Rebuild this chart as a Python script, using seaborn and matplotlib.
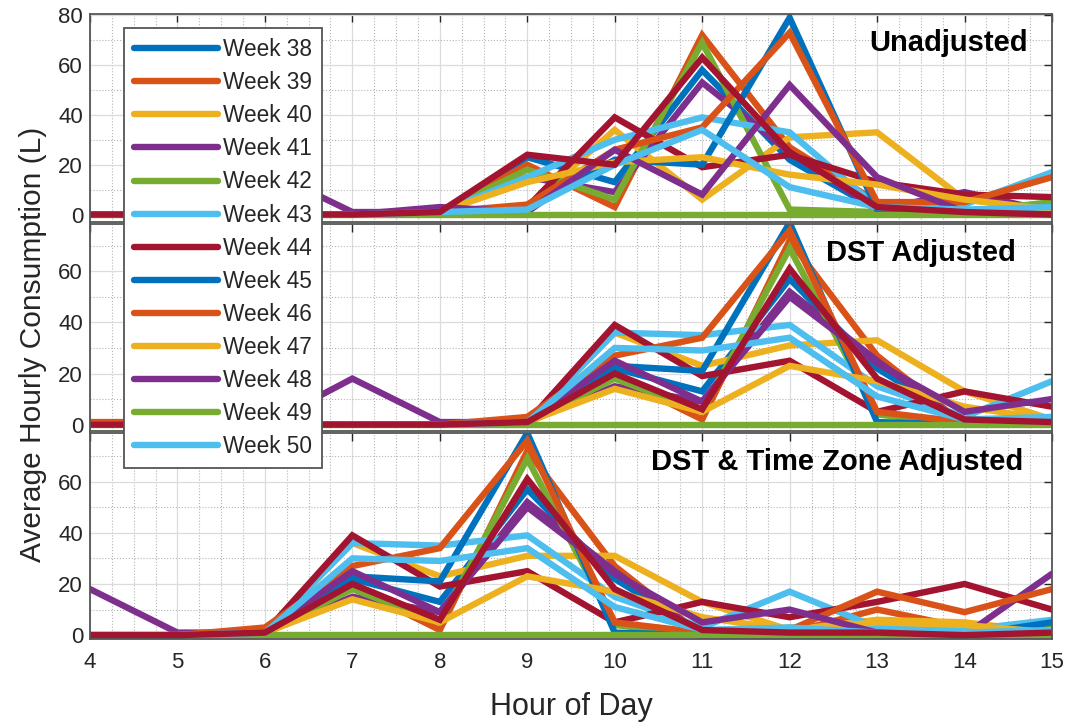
import matplotlib.pyplot as plt
import seaborn as sns
import pandas as pd
from matplotlib.ticker import MultipleLocator

# --- Data ---
HOURS = list(range(4, 16))
WEEKS = [f"Week {w}" for w in range(38, 52)]   # week 51 is drawn but not listed in the legend
LEGEND_WEEKS = WEEKS[:13]
MATLAB_COLORS = ["#0072BD", "#D95319", "#EDB120", "#7E2F8E", "#77AC30", "#4DBEEE", "#A2142F"]

# one row per week (38..51), one column per hour (4..15)
unadjusted = [
    [0, 0, 0, 0, 1, 23, 13, 58, 22, 2, 1, 1],
    [0, 0, 0, 0, 1, 20, 3, 72, 27, 5, 1, 1],
    [0, 0, 0, 0, 1, 3, 34, 6, 31, 33, 6, 2],
    [0, 0, 18, 1, 1, 15, 9, 53, 25, 2, 9, 1],
    [0, 0, 0, 0, 1, 18, 6, 69, 2, 1, 1, 5],
    [0, 0, 0, 0, 1, 15, 30, 39, 33, 3, 4, 17],
    [0, 0, 0, 0, 1, 3, 39, 19, 24, 13, 8, 7],
    [0, 0, 0, 0, 1, 2, 22, 20, 79, 2, 0, 1],
    [0, 0, 0, 0, 1, 4, 26, 35, 73, 5, 5, 15],
    [0, 0, 0, 0, 1, 13, 21, 23, 16, 12, 6, 2],
    [0, 0, 0, 0, 3, 1, 26, 8, 52, 15, 1, 0],
    [0, 0, 0, 0, 0, 0, 0, 0, 0, 0, 0, 0],
    [0, 0, 0, 0, 1, 2, 20, 34, 11, 3, 2, 3],
    [0, 0, 0, 0, 1, 24, 20, 63, 25, 3, 1, 0],
]

dst_adjusted = [
    [0, 0, 0, 0, 0, 1, 22, 13, 57, 22, 1, 1],
    [0, 0, 0, 0, 0, 1, 19, 2, 72, 27, 0, 1],
    [0, 0, 0, 0, 0, 1, 36, 23, 31, 33, 13, 2],
    [0, 0, 0, 18, 1, 1, 15, 9, 52, 25, 0, 0],
    [0, 0, 0, 0, 0, 1, 18, 5, 69, 4, 0, 3],
    [0, 0, 0, 0, 0, 1, 36, 35, 39, 15, 3, 17],
    [0, 0, 0, 0, 0, 1, 39, 19, 25, 5, 13, 7],
    [0, 0, 0, 0, 0, 1, 23, 21, 79, 1, 0, 0],
    [1, 1, 0, 0, 0, 3, 27, 34, 76, 5, 1, 2],
    [0, 0, 0, 0, 0, 1, 14, 5, 23, 17, 7, 2],
    [0, 0, 0, 0, 0, 1, 25, 9, 50, 24, 5, 10],
    [0, 0, 0, 0, 0, 0, 0, 0, 0, 0, 0, 0],
    [0, 0, 0, 0, 0, 1, 30, 29, 34, 11, 2, 3],
    [0, 0, 0, 0, 0, 1, 20, 6, 61, 18, 2, 1],
]

dst_tz_adjusted = [
    [0, 0, 1, 22, 13, 57, 22, 1, 1, 0, 0, 5],
    [0, 0, 1, 19, 2, 72, 27, 0, 1, 10, 3, 1],
    [0, 0, 1, 36, 23, 31, 31, 13, 2, 6, 5, 1],
    [18, 1, 1, 15, 9, 52, 25, 0, 0, 0, 0, 24],
    [0, 0, 1, 18, 5, 69, 4, 0, 3, 2, 1, 3],
    [0, 0, 1, 36, 35, 39, 15, 3, 17, 3, 2, 6],
    [0, 0, 1, 39, 19, 25, 5, 13, 7, 13, 20, 10],
    [0, 0, 1, 23, 21, 79, 1, 0, 0, 0, 0, 5],
    [0, 0, 3, 27, 34, 76, 5, 1, 2, 17, 9, 18],
    [0, 0, 1, 14, 5, 23, 17, 7, 2, 5, 4, 1],
    [0, 0, 1, 25, 9, 50, 24, 5, 10, 1, 0, 0],
    [0, 0, 0, 0, 0, 0, 0, 0, 0, 0, 0, 0],
    [0, 0, 1, 30, 29, 34, 11, 2, 3, 1, 1, 2],
    [0, 0, 1, 20, 6, 61, 18, 2, 1, 1, 0, 1],
]

PANEL_TITLES = ["Unadjusted", "DST Adjusted", "DST & Time Zone Adjusted"]

# --- Style ---
sns.set_style("white")
plt.rcParams["font.family"] = ["Liberation Sans", "DejaVu Sans"]
plt.rcParams["lines.solid_joinstyle"] = "miter"
TEXT_COLOR = "#262626"

W, H = 1065, 725
fig = plt.figure(figsize=(W / 100, H / 100), dpi=100)


def px_rect(left, top, right, bottom):
    return [left / W, 1 - bottom / H, (right - left) / W, (bottom - top) / H]


palette = {wk: MATLAB_COLORS[i % len(MATLAB_COLORS)] for i, wk in enumerate(WEEKS)}

# (values, title, pixel top/bottom, ylim, yticks, title x)
panels = [
    (unadjusted, PANEL_TITLES[0], (14, 222), (-3, 80.5), [0, 20, 40, 60, 80], 0.975),
    (dst_adjusted, PANEL_TITLES[1], (224, 431), (-2.5, 78.5), [0, 20, 40, 60], 0.962),
    (dst_tz_adjusted, PANEL_TITLES[2], (433, 639), (-1.5, 79), [0, 20, 40, 60], 0.970),
]

axes = []
for values, title, (top, bottom), ylim, yticks, tx in panels:
    ax = fig.add_axes(px_rect(90, top, 1052, bottom))
    rows = []
    for wk, series in zip(WEEKS, values):
        for hr, v in zip(HOURS, series):
            rows.append({"hour": hr, "value": v, "week": wk})
    df = pd.DataFrame(rows)
    sns.lineplot(data=df, x="hour", y="value", hue="week", hue_order=WEEKS,
                 palette=palette, linewidth=4.6, legend=False, errorbar=None,
                 sort=False, ax=ax)
    ax.set_xlim(4, 15)
    ax.set_ylim(*ylim)
    ax.set_xticks(HOURS)
    ax.set_yticks(yticks)
    ax.xaxis.set_minor_locator(MultipleLocator(0.25))
    ax.yaxis.set_minor_locator(MultipleLocator(10))
    ax.grid(which="major", color="#dcdcdc", linewidth=0.9)
    ax.grid(which="minor", color="#b5b5b5", linestyle=":", linewidth=0.8)
    ax.set_axisbelow(True)
    ax.tick_params(which="major", direction="in", length=6, width=1,
                   top=True, right=True, colors=TEXT_COLOR, labelsize=16)
    ax.tick_params(axis="x", pad=9)
    ax.tick_params(axis="y", pad=5)
    ax.tick_params(which="minor", length=0)
    for sp in ax.spines.values():
        sp.set_color("#555555")
        sp.set_linewidth(1.3)
    ax.set_xlabel("")
    ax.set_ylabel("")
    ax.text(tx, 0.86, title, transform=ax.transAxes, ha="right", va="center",
            fontsize=21, fontweight="bold", color="black")
    axes.append(ax)

for ax in axes[:-1]:
    ax.tick_params(labelbottom=False)

fig.text(571 / W, 1 - 707 / H, "Hour of Day", ha="center", va="center",
         fontsize=22, color=TEXT_COLOR)
fig.text(33 / W, 1 - 344 / H, "Average Hourly Consumption (L)", rotation=90,
         ha="center", va="center", fontsize=21.5, color=TEXT_COLOR)

handles = axes[0].get_lines()[:len(LEGEND_WEEKS)]
leg = fig.legend(handles, LEGEND_WEEKS, loc="upper left",
                 bbox_to_anchor=(124 / W, 1 - 28 / H), fontsize=16.3,
                 handlelength=3.7, handletextpad=0.22, labelspacing=0.445,
                 borderpad=0.45, borderaxespad=0, fancybox=False, framealpha=1,
                 edgecolor="#555555")
leg.get_frame().set_linewidth(1.3)
for txt in leg.get_texts():
    txt.set_color(TEXT_COLOR)

fig.savefig("out.png", dpi=100)
